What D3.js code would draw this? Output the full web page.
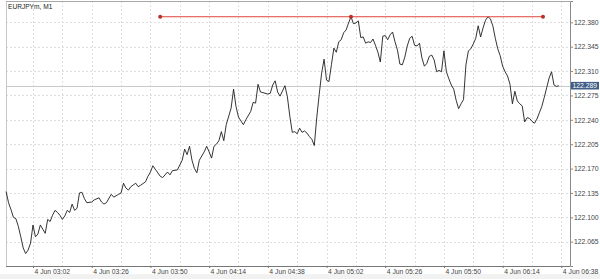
<!DOCTYPE html>
<html><head><meta charset="utf-8">
<script src="https://cdn.jsdelivr.net/npm/d3@7"></script>
<style>
html,body{margin:0;padding:0;background:#fff;}
svg{display:block;font-family:"Liberation Sans",Arial,sans-serif;}
</style></head>
<body><svg id="c" width="600" height="279"></svg>
<script>
const title = "EURJPYm, M1";
const day = "4 Jun";
const times = ["02:51","02:52","02:53","02:54","02:55","02:56","02:57","02:58","02:59","03:00","03:01",
"03:02","03:03","03:04","03:05","03:06","03:07","03:08","03:09","03:10","03:11","03:12","03:13","03:14","03:15","03:16","03:17","03:18","03:19","03:20","03:21","03:22","03:23","03:24","03:26","03:27","03:29","03:30","03:31","03:32","03:34","03:35","03:37","03:38","03:39","03:40","03:41","03:42","03:44","03:45","03:46","03:48","03:49","03:50",
"03:51","03:52","03:54","03:55","03:57","03:58","03:59","04:01","04:03","04:04","04:05","04:06","04:07","04:08","04:09","04:10","04:12","04:13","04:14","04:15","04:16","04:17","04:18","04:19","04:20","04:21","04:23","04:24","04:25","04:26","04:28","04:29","04:31","04:32","04:33","04:34","04:35","04:36","04:38","04:39","04:40","04:41","04:42","04:43","04:45","04:46","04:47","04:48","04:49","04:50",
"04:51","04:52","04:53","04:54","04:55","04:56","04:57","04:58","04:59","05:00","05:01","05:02","05:03","05:04","05:05","05:06","05:07","05:08","05:09","05:10","05:11","05:12","05:13","05:14","05:15","05:16","05:17","05:18","05:19","05:20","05:21","05:22","05:23","05:24","05:25","05:26","05:27","05:28","05:29","05:30",
"05:31","05:32","05:33","05:34","05:35","05:36","05:37","05:38","05:39","05:40","05:41","05:42","05:43","05:44","05:45","05:46","05:47","05:48","05:49","05:50","05:51","05:52","05:53","05:54","05:55","05:56","05:57","05:58","05:59","06:00",
"06:01","06:02","06:03","06:04","06:05","06:06","06:07","06:08","06:09","06:10","06:11","06:12","06:13","06:14","06:15","06:16","06:17","06:18","06:19","06:20","06:21","06:22","06:23","06:24","06:25","06:26","06:27","06:28","06:29","06:30","06:31","06:32","06:33","06:34","06:35","06:36","06:37"];
const prices = [122.137,122.121,122.111,122.100,122.098,122.087,122.072,122.056,122.048,122.053,122.063,
122.089,122.072,122.076,122.089,122.083,122.077,122.097,122.094,122.103,122.110,122.107,122.103,122.097,122.102,122.110,122.107,122.119,122.110,122.113,122.135,122.136,122.127,122.121,122.122,122.125,122.128,122.122,122.119,122.121,122.133,122.129,122.133,122.135,122.149,122.142,122.139,122.144,122.149,122.144,122.146,122.151,122.159,122.165,
122.174,122.169,122.159,122.157,122.165,122.161,122.167,122.168,122.182,122.198,122.190,122.202,122.182,122.170,122.164,122.182,122.194,122.202,122.194,122.185,122.202,122.205,122.210,122.223,122.210,122.233,122.257,122.284,122.259,122.244,122.233,122.240,122.252,122.265,122.264,122.291,122.280,122.279,122.277,122.278,122.290,122.296,122.280,122.274,122.289,122.273,122.245,122.222,122.223,122.220,
122.228,122.222,122.224,122.221,122.216,122.212,122.203,122.243,122.276,122.307,122.327,122.297,122.295,122.319,122.343,122.337,122.352,122.355,122.365,122.369,122.379,122.388,122.378,122.379,122.382,122.358,122.359,122.350,122.352,122.351,122.356,122.347,122.337,122.323,122.360,122.361,122.355,122.362,122.366,122.352,
122.340,122.320,122.319,122.330,122.346,122.357,122.360,122.347,122.346,122.350,122.329,122.317,122.321,122.331,122.333,122.326,122.309,122.311,122.309,122.339,122.309,122.299,122.290,122.284,122.268,122.256,122.263,122.269,122.319,122.339,
122.342,122.349,122.357,122.375,122.359,122.372,122.383,122.388,122.385,122.375,122.357,122.342,122.332,122.317,122.309,122.303,122.291,122.263,122.281,122.267,122.263,122.260,122.237,122.243,122.242,122.238,122.235,122.241,122.250,122.259,122.272,122.286,122.300,122.309,122.290,122.288,122.289];
const yTicks = [122.065,122.100,122.135,122.170,122.205,122.240,122.275,122.310,122.345,122.380];
const xTickTimes = ["03:02","03:26","03:50","04:14","04:38","05:02","05:26","05:50","06:14","06:38"];
const gridTimes = ["03:02","03:14","03:26","03:38","03:50","04:02","04:14","04:26","04:38","04:50","05:02","05:14","05:26","05:38","05:50","06:02","06:14","06:26","06:38"];
const levelValue = 122.388;
const levelTimes = ["03:54","05:12","06:30:30"];
const currentPrice = 122.289;

const toDate = s => { const p = s.split(":").map(Number); return new Date(Date.UTC(2000,5,4,p[0],p[1],p[2]||0)); };
const data = times.map((t,i)=>({t:toDate(t), v:prices[i]}));

const L=6, R=570, T=1, B=266;
const svg = d3.select("#c");
svg.append("rect").attr("x",0).attr("y",274).attr("width",600).attr("height",5).attr("fill","#f2f2f2");

const x = d3.scaleUtc()
  .domain([new Date(toDate("03:02").getTime()-11.04*60000), new Date(toDate("03:02").getTime()+219.54*60000)])
  .range([L,R]);
const y = d3.scaleLinear().domain([122.0301,122.4106]).range([B,T]);

// grid
const g = svg.append("g");
g.selectAll("line.h").data(yTicks).join("line")
  .attr("x1",L).attr("x2",R).attr("y1",d=>Math.round(y(d))+0.5).attr("y2",d=>Math.round(y(d))+0.5)
  .attr("stroke","#dedede").attr("stroke-dasharray","2,2").attr("stroke-width",1);
g.selectAll("line.v").data(gridTimes.map(toDate)).join("line")
  .attr("x1",d=>Math.round(x(d))+0.5).attr("x2",d=>Math.round(x(d))+0.5).attr("y1",T).attr("y2",B)
  .attr("stroke","#dedede").attr("stroke-dasharray","2,2").attr("stroke-width",1);

// frame
svg.append("line").attr("x1",L+0.5).attr("x2",L+0.5).attr("y1",T).attr("y2",B).attr("stroke","#c8c8c8");
svg.append("line").attr("x1",L).attr("x2",R).attr("y1",T+0.5).attr("y2",T+0.5).attr("stroke","#a8a8a8");

// current price line
svg.append("line").attr("x1",L).attr("x2",R).attr("y1",Math.round(y(currentPrice))+0.5).attr("y2",Math.round(y(currentPrice))+0.5)
  .attr("stroke","#c9c9c9");

// price line
svg.append("path").datum(data)
  .attr("d", d3.line().x(d=>x(d.t)).y(d=>y(d.v)))
  .attr("fill","none").attr("stroke","#1e1e1e").attr("stroke-width",0.9).attr("stroke-linejoin","round");

// level line
const lv = levelTimes.map(toDate);
svg.append("line").attr("x1",x(lv[0])).attr("x2",x(lv[lv.length-1])).attr("y1",y(levelValue)).attr("y2",y(levelValue))
  .attr("stroke","#e0443a").attr("stroke-width",1);
svg.selectAll("circle.lv").data(lv).join("circle")
  .attr("cx",d=>x(d)).attr("cy",y(levelValue)).attr("r",2).attr("fill","#b5302a");

// y axis
const ya = svg.append("g").attr("transform",`translate(${R},0)`)
  .call(d3.axisRight(y).tickValues(yTicks).tickFormat(d3.format(".3f")).tickSize(3).tickPadding(1));
ya.select(".domain").attr("stroke","#8a8a8a");
ya.selectAll(".tick line").attr("stroke","#8a8a8a");
ya.selectAll("text").attr("fill","#444").style("font-size","6.8px");

// x axis
const xa = svg.append("g").attr("transform",`translate(0,${B})`)
  .call(d3.axisBottom(x).tickValues(xTickTimes.map(toDate)).tickFormat(d=>day+" "+d3.utcFormat("%H:%M")(d)).tickSize(2).tickPadding(1));
xa.select(".domain").attr("stroke","#777").attr("d",`M${L},0.5H${R}`);
xa.selectAll(".tick line").attr("stroke","#777");
xa.selectAll("text").attr("text-anchor","start").attr("dx","1").attr("fill","#444").style("font-size","6.8px");

// current price tag
const cy = y(currentPrice);
svg.append("rect").attr("x",R+1).attr("y",cy-3.8).attr("width",28).attr("height",7.6).attr("fill","#3f5d86");
svg.append("text").attr("x",R+2.5).attr("y",cy).attr("dy","0.35em").attr("fill","#fff").style("font-size","6.8px")
  .text(d3.format(".3f")(currentPrice));

// title
svg.append("text").attr("x",8).attr("y",8.5).attr("fill","#222").style("font-size","6.6px").text(title);
</script></body></html>
